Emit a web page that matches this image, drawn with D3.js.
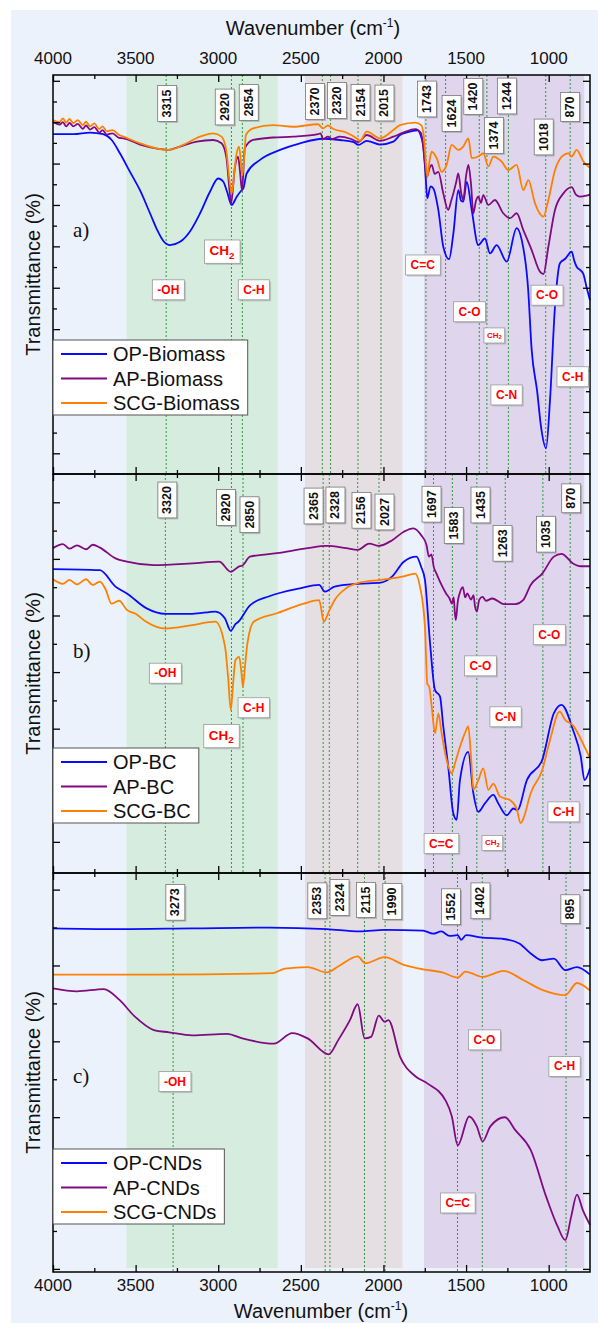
<!DOCTYPE html>
<html><head><meta charset="utf-8">
<script src="https://cdn.jsdelivr.net/npm/d3@7"></script>
<style>body{margin:0;background:#fff}svg{display:block}</style>
</head><body><svg id="c" width="603" height="1323"></svg>
<script>
// ---------------- DATA ----------------
const xTickLabels = [4000,3500,3000,2500,2000,1500,1000];
const bands = [[3555,2640],[2475,1885],[1755,785]];

const namesA = ["OP-Biomass","AP-Biomass","SCG-Biomass"];
const namesB = ["OP-BC","AP-BC","SCG-BC"];
const namesC = ["OP-CNDs","AP-CNDs","SCG-CNDs"];

const opBiomass = [[4000,82.1],[3877,82.1],[3776,82.5],[3696,82.1],[3645,80.7],[3595,77.5],[3534,73],[3473,68.5],[3413,63],[3370,59],[3332,56.3],[3292,55.3],[3231,56.1],[3171,58.6],[3110,63],[3050,68.2],[3000,71.4],[2969,70.6],[2945,68],[2919,65],[2888,67],[2860,68.5],[2848,69],[2828,72.6],[2747,75.9],[2626,78.3],[2505,79.9],[2366,81],[2263,80.7],[2180,80.2],[2152,79.5],[2101,80.5],[2021,79.6],[1940,80.3],[1900,81.9],[1853,82.6],[1795,83],[1772,81.5],[1758,79],[1745,72],[1735,66.6],[1715,69.5],[1698,69],[1668,63.8],[1638,54.9],[1603,51.9],[1577,58.1],[1547,68.6],[1530,66],[1517,65.8],[1496,70.6],[1466,63.8],[1426,55.3],[1386,56.9],[1355,53.3],[1315,55.3],[1254,51.3],[1194,59.4],[1163,56.5],[1125,45],[1103,30],[1070,20],[1045,11],[1016,6.2],[992,17.9],[962,40.4],[932,50.9],[900,52],[861,53.7],[845,51.5],[830,50],[810,49.3],[791,48.4],[770,45],[750,42]];
const apBiomass = [[4000,85.1],[3960,84.4],[3940,85.0],[3920,84.0],[3900,84.8],[3877,84.0],[3850,84.6],[3820,83.4],[3800,84.2],[3776,83.2],[3750,83.8],[3720,82.5],[3700,83.1],[3675,82.0],[3640,82.3],[3600,81.2],[3574,81.1],[3473,79.6],[3353,78.5],[3302,78.3],[3232,79.1],[3131,80.3],[3030,80.7],[2980,79.9],[2950,76.3],[2935,70],[2922,65.4],[2900,73.8],[2880,76.7],[2868,73],[2856,68.5],[2839,78.7],[2789,80.7],[2668,81.3],[2547,81.5],[2396,82.1],[2380,82.3],[2366,80.9],[2336,81.5],[2310,80.9],[2265,81.5],[2200,81],[2152,80.2],[2101,81.9],[2021,80.5],[1940,81.5],[1880,82.5],[1807,83.3],[1772,82.3],[1749,75.1],[1738,71.8],[1720,74],[1708,74.7],[1690,72.5],[1668,73],[1638,67.8],[1608,63.8],[1590,66],[1577,67.8],[1560,70.5],[1547,72.6],[1530,68],[1517,66.2],[1500,72],[1486,74.7],[1470,70],[1456,63],[1440,66],[1426,67],[1410,65.5],[1396,67.4],[1365,65],[1325,66.2],[1275,63],[1234,61.8],[1194,63],[1154,59],[1103,54.1],[1053,48.9],[1032,48.3],[1002,54.9],[962,63.8],[911,67.8],[861,69.3],[835,67.5],[810,67],[760,67.4],[750,67.5]];
const scgBiomass = [[4000,85.5],[3960,85.0],[3940,85.9],[3920,84.9],[3900,85.8],[3877,84.8],[3850,85.5],[3820,84.3],[3800,85.1],[3776,84.0],[3750,84.7],[3720,83.3],[3700,84.0],[3675,82.8],[3640,83.1],[3600,81.9],[3574,81.5],[3473,79.9],[3353,78.5],[3302,78.3],[3212,79.5],[3111,81.5],[3030,82.3],[2980,81.5],[2950,77.9],[2935,72],[2918,67.8],[2900,74],[2890,77.1],[2874,79.1],[2862,75],[2854,72.2],[2840,78],[2833,81.9],[2789,83.5],[2668,84.3],[2547,83.9],[2396,84.5],[2366,83.5],[2336,84.2],[2305,83.4],[2225,82.5],[2155,80.9],[2142,80.5],[2101,82.7],[2021,81.1],[1940,83.1],[1900,84.3],[1807,84.9],[1772,84.3],[1758,82.3],[1749,78.3],[1735,71.8],[1720,76],[1708,77.9],[1678,76.3],[1648,73],[1618,74.7],[1587,79.5],[1547,78.3],[1517,79.1],[1486,81.1],[1466,76.3],[1426,76.7],[1396,77.5],[1365,74.3],[1335,76.7],[1285,75.5],[1244,73.4],[1194,74.7],[1154,68.6],[1123,71],[1083,65.4],[1032,62.2],[1002,66.2],[962,73.4],[921,76.7],[881,77.5],[861,76.7],[831,78.3],[790,75.5],[760,74.3],[750,74]];

const opBC = [[4000,53.2],[3716,53],[3622,50.1],[3553,48.9],[3436,46.3],[3320,45.3],[3157,45.3],[3017,45.7],[2960,44.5],[2924,42.3],[2895,43.5],[2878,43.9],[2808,46.8],[2691,48.4],[2505,49.8],[2389,50.4],[2354,49.2],[2296,50.1],[2156,50.6],[2016,50.8],[1947,51.9],[1877,54.5],[1800,55.4],[1772,53.6],[1749,51.3],[1718,40.1],[1688,31.8],[1658,30.7],[1638,25.4],[1608,18.3],[1577,10],[1557,8.9],[1537,15.9],[1487,20.9],[1456,13.6],[1426,10.3],[1386,11.8],[1335,13.3],[1305,11.8],[1254,9.7],[1214,10.9],[1190,10.6],[1132,15.9],[1039,19.5],[969,27.7],[922,29.2],[853,24.8],[806,20.1],[783,15.9],[750,18]];
const apBC = [[4000,56.9],[3940,57.6],[3900,56.8],[3855,57.4],[3800,56.7],[3760,57.5],[3716,57],[3622,55.1],[3553,54.5],[3390,53.9],[3157,54.2],[2994,54.5],[2924,52.7],[2878,53.6],[2850,53.9],[2808,55.4],[2645,56],[2459,56.9],[2342,57.3],[2226,56.9],[2156,56.6],[2086,57.7],[2028,57.3],[1947,58.3],[1877,59.8],[1819,60.4],[1772,59.2],[1740,57.5],[1725,55.4],[1710,55.8],[1695,53.5],[1679,52.4],[1650,50.5],[1621,48.9],[1600,48.0],[1586,47.1],[1575,48.2],[1568,45.5],[1562,44.2],[1550,47.5],[1539,48.9],[1520,50.0],[1505,48.2],[1493,48.9],[1470,47.8],[1455,48.6],[1446,46.6],[1435,45.7],[1420,47.8],[1400,48.3],[1380,47.6],[1341,48],[1271,47],[1202,47],[1155,47.7],[1109,50.4],[1039,52.4],[969,55.4],[922,55.9],[853,54.2],[806,53.7],[750,53.7]];
const scgBC = [[4000,51.4],[3940,50.6],[3900,51.3],[3855,50.5],[3800,51.4],[3760,50.4],[3716,51],[3680,49.5],[3646,47.1],[3600,47.6],[3553,46],[3500,45.3],[3436,43.9],[3320,42.7],[3157,43.3],[3017,43.9],[2959,39.5],[2940,34],[2924,28.3],[2910,33],[2896,37.1],[2873,37.7],[2860,35],[2850,32.4],[2838,36],[2826,39.5],[2785,43.9],[2645,45.4],[2482,47.1],[2389,47.7],[2361,43.9],[2331,45.7],[2296,47.7],[2226,49.8],[2156,50.7],[2016,51.3],[1877,51.9],[1809,52.4],[1779,50.1],[1749,43],[1735,33],[1723,32.4],[1708,28.9],[1688,24.2],[1668,27.7],[1648,24.2],[1618,19.5],[1587,17.1],[1567,18.9],[1537,21.8],[1507,24.2],[1487,25.4],[1470,20],[1456,14.2],[1426,15.9],[1396,18],[1365,14.2],[1335,15.3],[1295,13],[1234,12.4],[1194,10.9],[1170,8.3],[1155,9],[1109,13.6],[1039,17.7],[992,23],[934,28],[899,26.5],[853,25.6],[783,21.8],[750,19.8]];

const opCNDs = [[4000,45.7],[3622,45.6],[3157,45.7],[2691,45.8],[2342,45.6],[2144,45.3],[1993,45.5],[1760,45.4],[1700,45.0],[1650,45.3],[1600,44.7],[1551,44.8],[1530,44.2],[1500,44.8],[1411,44.5],[1272,44.3],[1178,43.7],[1109,42.4],[1039,41.5],[969,41.7],[899,40.2],[829,40.6],[750,39.6]];
const apCNDs = [[4000,37.8],[3855,37.4],[3692,37.7],[3599,36.3],[3506,34.1],[3390,32.3],[3297,32],[3157,31.6],[2947,31.8],[2854,31.2],[2663,30.5],[2552,31.9],[2459,31.2],[2331,29.1],[2273,31],[2203,33.6],[2156,35.7],[2114,31.2],[2075,31.4],[2028,34.2],[1993,33.4],[1970,33.6],[1900,28.8],[1807,26.2],[1737,25.3],[1621,22.9],[1586,20.9],[1551,17.1],[1481,20.9],[1435,19.6],[1400,17.6],[1353,19.6],[1265,20.8],[1202,19.1],[1109,16.5],[1015,10.3],[946,6.4],[899,4.6],[864,7.7],[829,10.6],[794,8.6],[750,6.6]];
const scgCNDs = [[4000,39.6],[3390,39.6],[2668,39.8],[2598,40.4],[2459,40.6],[2342,39.9],[2272,40.7],[2156,42],[2110,41.1],[1993,41.9],[1877,40.9],[1760,40.3],[1644,39.9],[1551,39.2],[1504,40],[1400,39.3],[1272,40.1],[1155,38.9],[1039,37.6],[899,36.9],[829,38.5],[750,37.5]];

const peaksA = [3315,2920,2854,2370,2320,2154,2015,1743,1624,1420,1374,1244,1018,870];
const peaksB = [3320,2920,2850,2365,2328,2156,2027,1697,1583,1435,1263,1035,870];
const peaksC = [3273,2353,2324,2115,1990,1552,1402,895];

const groupsA = [["-OH",3302,44.5],["CH2",2977,54.0],["C-H",2784,44.5],["C=C",1762,50.5],["C-O",1479,39.2],["CH2",1329,33.6],["C-N",1255,19.1],["C-O",1010,43.2],["C-H",855,23.5]];
const groupsB = [["-OH",3320,34.8],["C-H",2785,28.7],["CH2",2982,23.9],["C-O",1413,36.1],["C-O",996,41.6],["C-N",1261,27.1],["C-H",910,10.3],["C=C",1650,4.7],["CH2",1341,4.9]];
const groupsC = [["-OH",3262,25.5],["C-O",1389,31.0],["C-H",904,27.5],["C=C",1551,9.5]];

// ---------------- LAYOUT / STYLE ----------------
const colors = ["#0a0aff","#800a80","#ff8000"];
const L = 53, R = 590;
// box offsets: [dx from line (px), centre y from panel top (px)]
const boxA = [[1,28.5],[-6.7,32],[6.4,27.5],[-7.3,26.5],[6.4,25.5],[2.5,27.5],[3.5,28],[1,24],[6,38.5],[-6,21.5],[7,60.5],[-1.5,21],[-2,62],[0,32]];
const boxB = [[2,26],[-5.4,33.5],[6.5,40.7],[-9.6,32],[6.2,31],[3.8,36.3],[5.5,38],[-2,30.2],[1.4,51.5],[3.7,31],[-2.7,69.3],[3,60.2],[1,24.3]];
const boxC = [[2.2,29.3],[-7.8,27.8],[9.6,24.5],[1.5,27],[7.2,28.5],[-6.5,33.7],[-1.8,27.8],[4.3,36.2]];
const smallCH2 = [5, 8, -1];

const panels = [
  {top:75, bottom:474, dom:[0,96.4], tick0:0, series:[opBiomass,apBiomass,scgBiomass], names:namesA, peaks:peaksA, boxes:boxA, groups:groupsA, label:"a)", labelY:237, legendTop:340},
  {top:474, bottom:873, dom:[-0.5,70], tick0:0, series:[opBC,apBC,scgBC], names:namesB, peaks:peaksB, boxes:boxB, groups:groupsB, label:"b)", labelY:658, legendTop:748},
  {top:873, bottom:1272, dom:[0.4,53], tick0:0.81, series:[opCNDs,apCNDs,scgCNDs], names:namesC, peaks:peaksC, boxes:boxC, groups:groupsC, label:"c)", labelY:1083, legendTop:1149}
];

const sans = "'Liberation Sans', Arial, sans-serif";
const svg = d3.select("#c");
svg.append("rect").attr("x",11).attr("y",10).attr("width",587).attr("height",1313).attr("fill","#ecf2fb");

const x = d3.scaleLinear().domain([4000,750]).range([L,R]);
const bandColors = ["#d5ecdf","#e5dfe3","#dfd6ee"];
svg.append("g").selectAll("rect").data(bands).join("rect")
  .attr("x",d=>x(d[0])).attr("width",d=>x(d[1])-x(d[0]))
  .attr("y",75).attr("height",1268-75)
  .attr("fill",(d,i)=>bandColors[i]);

const xMajor = d3.range(4000,999,-500);
const xMinor = d3.range(3750,760,-500);

panels.forEach((p,pi)=>{
  const y = d3.scaleLinear().domain(p.dom).range([p.bottom,p.top]);
  const g = svg.append("g");

  // dotted guide lines
  g.append("g").selectAll("line").data(p.peaks).join("line")
    .attr("x1",d=>x(d)).attr("x2",d=>x(d)).attr("y1",p.top).attr("y2",p.bottom)
    .attr("stroke","#2f9a3c").attr("stroke-width",1).attr("stroke-dasharray","2,2");

  // curves
  const line = d3.line().x(d=>x(d[0])).y(d=>y(d[1])).curve(d3.curveMonotoneX);
  p.series.forEach((s,i)=>{
    g.append("path").datum(s).attr("d",line).attr("fill","none")
      .attr("stroke",colors[i]).attr("stroke-width",1.8).attr("stroke-linejoin","round");
  });

  // axes ticks
  const styleAxis = sel=>{ sel.select(".domain").remove(); sel.selectAll("line").attr("stroke","#000").attr("stroke-width",1.3); };
  g.append("g").attr("transform",`translate(0,${p.top})`).call(d3.axisBottom(x).tickValues(xMajor).tickSize(7).tickSizeOuter(0).tickFormat("")).call(styleAxis);
  g.append("g").attr("transform",`translate(0,${p.top})`).call(d3.axisBottom(x).tickValues(xMinor).tickSize(4).tickSizeOuter(0).tickFormat("")).call(styleAxis);
  g.append("g").attr("transform",`translate(0,${p.bottom})`).call(d3.axisTop(x).tickValues(xMajor).tickSize(7).tickSizeOuter(0).tickFormat("")).call(styleAxis);
  g.append("g").attr("transform",`translate(0,${p.bottom})`).call(d3.axisTop(x).tickValues(xMinor).tickSize(4).tickSizeOuter(0).tickFormat("")).call(styleAxis);
  const yt = d3.range(p.tick0, p.dom[1], 5).filter(v=>y(v) > p.top+3 && y(v) < p.bottom-3);
  const yMaj = yt.filter((v,i)=>i%2===0), yMin = yt.filter((v,i)=>i%2===1);
  [[yMaj,7],[yMin,4]].forEach(([vals,sz])=>{
    g.append("g").attr("transform",`translate(${L},0)`).call(d3.axisRight(y).tickValues(vals).tickSize(sz).tickSizeOuter(0).tickFormat("")).call(styleAxis);
    g.append("g").attr("transform",`translate(${R},0)`).call(d3.axisLeft(y).tickValues(vals).tickSize(sz).tickSizeOuter(0).tickFormat("")).call(styleAxis);
  });
  g.append("rect").attr("x",L).attr("y",p.top).attr("width",R-L).attr("height",p.bottom-p.top)
    .attr("fill","none").attr("stroke","#000").attr("stroke-width",1.5);

  // peak boxes
  p.peaks.forEach((wn,i)=>{
    const cx = x(wn)+p.boxes[i][0], cy = p.top+p.boxes[i][1];
    const bg = g.append("g");
    const sh = bg.append("rect"), r = bg.append("rect");
    const t = bg.append("text").attr("transform",`translate(${cx},${cy}) rotate(-90)`)
      .attr("text-anchor","middle").attr("dominant-baseline","central")
      .attr("font-family",sans).attr("font-weight","bold").attr("font-size",12.5).attr("fill","#111").text(wn);
    const len = t.node().getComputedTextLength();
    r.attr("x",cx-9.5).attr("y",cy-len/2-4).attr("width",19).attr("height",len+8).attr("fill","#fff").attr("stroke","#777").attr("stroke-width",0.8);
    sh.attr("x",cx-8).attr("y",cy-len/2-2.5).attr("width",19).attr("height",len+8).attr("fill","#9a9a9a").attr("opacity",0.6);
  });

  // red group labels
  p.groups.forEach((gr,i)=>{
    const small = smallCH2[pi]===i;
    const big = gr[0]==="CH2" && !small;
    const fs = small ? 8 : (big ? 13.5 : 12);
    const gg = g.append("g").attr("transform",`translate(${x(gr[1])},${y(gr[2])})`);
    const sh = gg.append("rect"), r = gg.append("rect");
    const t = gg.append("text").attr("text-anchor","middle").attr("dominant-baseline","central")
      .attr("font-family",sans).attr("font-weight","bold").attr("font-size",fs).attr("fill","#ff0000");
    if (gr[0]==="CH2") {
      t.append("tspan").text("CH");
      t.append("tspan").attr("font-size",fs*0.72).attr("dy",fs*0.32).text("2");
    } else t.text(gr[0]);
    const bb = t.node().getBBox();
    const px = small?3:5, py = small?2.5:3;
    r.attr("x",bb.x-px).attr("y",bb.y-py).attr("width",bb.width+2*px).attr("height",bb.height+2*py)
      .attr("fill","#fff").attr("stroke","#999").attr("stroke-width",0.8);
    sh.attr("x",bb.x-px+1.5).attr("y",bb.y-py+1.5).attr("width",bb.width+2*px).attr("height",bb.height+2*py)
      .attr("fill","#9a9a9a").attr("opacity",0.5);
  });

  // legend
  const lg = g.append("g");
  const lr = lg.append("rect");
  let maxW = 0;
  p.names.forEach((n,i)=>{
    const ly = p.legendTop + 14 + i*24.5;
    lg.append("line").attr("x1",61).attr("x2",107).attr("y1",ly).attr("y2",ly).attr("stroke",colors[i]).attr("stroke-width",2.2);
    const t = lg.append("text").attr("x",113).attr("y",ly).attr("dominant-baseline","central")
      .attr("font-family",sans).attr("font-size",20).attr("fill","#111").text(n);
    maxW = Math.max(maxW, t.node().getComputedTextLength());
  });
  lr.attr("x",L).attr("y",p.legendTop).attr("width",113+maxW+8-L).attr("height",75)
    .attr("fill","#fff").attr("stroke","#555").attr("stroke-width",1);

  // panel label
  g.append("text").attr("x",73).attr("y",p.labelY).attr("font-family","'Liberation Serif', 'Times New Roman', serif")
    .attr("font-size",21).attr("fill","#111").text(p.label);

  // y title
  g.append("text").attr("transform",`translate(33,${(p.top+p.bottom)/2}) rotate(-90)`)
    .attr("text-anchor","middle").attr("dominant-baseline","central")
    .attr("font-family",sans).attr("font-size",20).attr("fill","#111").text("Transmittance (%)");
});

// x tick labels top and bottom
svg.append("g").selectAll("text").data(xTickLabels).join("text")
  .attr("x",d=>x(d)).attr("y",64).attr("text-anchor","middle")
  .attr("font-family",sans).attr("font-size",17).attr("fill","#111").text(d=>d);
svg.append("g").selectAll("text").data(xTickLabels).join("text")
  .attr("x",d=>x(d)).attr("y",1291).attr("text-anchor","middle")
  .attr("font-family",sans).attr("font-size",17).attr("fill","#111").text(d=>d);

function xTitle(cx, by){
  const t = svg.append("text").attr("x",cx).attr("y",by).attr("text-anchor","middle")
    .attr("font-family",sans).attr("font-size",20).attr("fill","#111");
  t.append("tspan").text("Wavenumber (cm");
  t.append("tspan").attr("font-size",12).attr("dy",-8).text("-1");
  t.append("tspan").attr("dy",8).text(")");
}
xTitle(313, 35);
xTitle(321, 1318);
</script>
</body></html>
